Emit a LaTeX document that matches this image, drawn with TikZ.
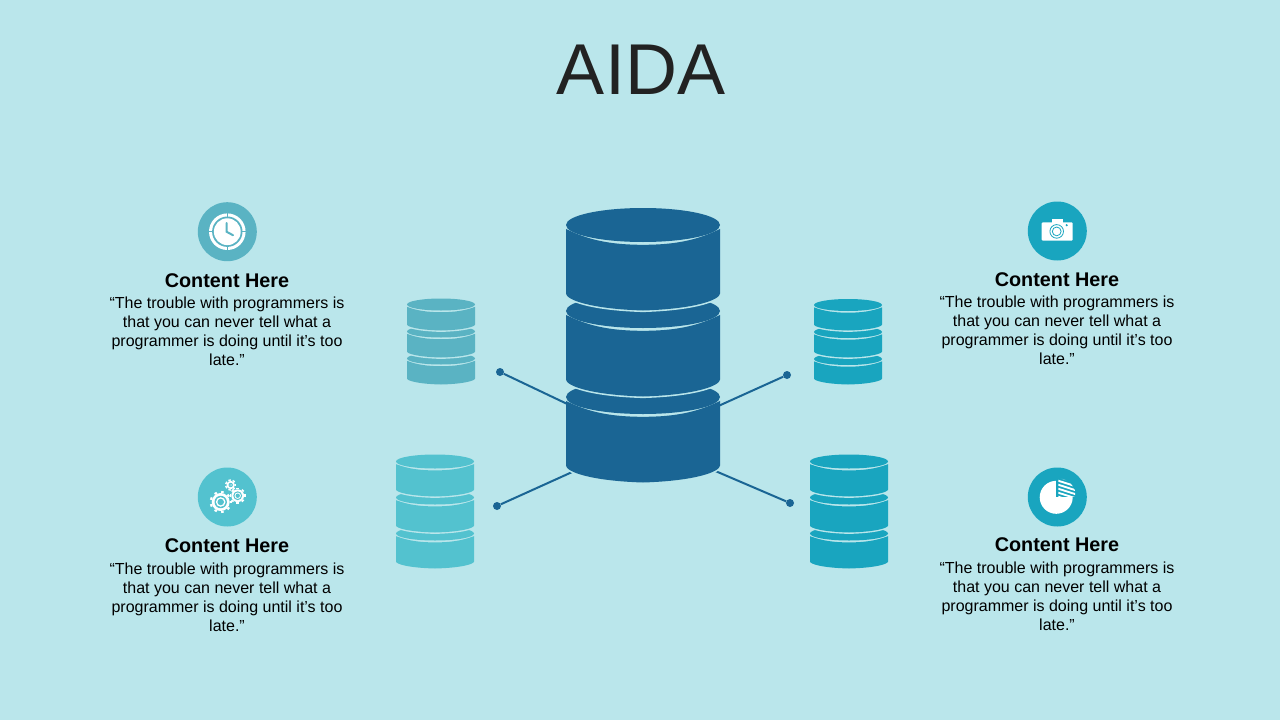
\documentclass[tikz,border=0pt]{standalone}
\usepackage{fontspec}
\setmainfont{Liberation Sans}
\definecolor{bgc}{HTML}{BAE6EB}
\definecolor{darkb}{HTML}{1A6594}
\definecolor{cA}{HTML}{5AB3C3}
\definecolor{cB}{HTML}{53C2CF}
\definecolor{cC}{HTML}{19A5BF}
\definecolor{titlec}{HTML}{222222}
% one stack segment: cx, yc, half width, ry, side height, colour, gap, halo width
\newcommand{\dbseg}[8]{%
  \fill[#6] (#1,#2) ellipse [x radius=#3, y radius=#4];
  \draw[bgc,line width=#8pt]
    ({#1-#3},{#2+#5}) .. controls ({#1-#3},{#2+#5+0.35*#4}) and ({#1-0.7*#3},{#2+#5+0.9*#4}) .. ({#1},{#2+#5+#4})
    .. controls ({#1+0.7*#3},{#2+#5+0.9*#4}) and ({#1+#3},{#2+#5+0.35*#4}) .. ({#1+#3},{#2+#5});
  \fill[#6]
    ({#1-#3},{#2+1.4*#7}) .. controls ({#1-0.7*#3},{#2+#4*0.75+#7}) and ({#1-0.4*#3},{#2+#4+#7}) .. ({#1},{#2+#4+#7})
    .. controls ({#1+0.4*#3},{#2+#4+#7}) and ({#1+0.7*#3},{#2+#4*0.75+#7}) .. ({#1+#3},{#2+1.4*#7})
    -- ({#1+#3},{#2+#5})
    .. controls ({#1+#3},{#2+#5+0.35*#4}) and ({#1+0.7*#3},{#2+#5+0.9*#4}) .. ({#1},{#2+#5+#4})
    .. controls ({#1-0.7*#3},{#2+#5+0.9*#4}) and ({#1-#3},{#2+#5+0.35*#4}) .. ({#1-#3},{#2+#5})
    -- cycle;
}
% whole stack: cx, first yc, w, ry, h, pitch, colour, gap, halo
\newcommand{\dbstack}[9]{%
  \dbseg{#1}{#2+2*#6}{#3}{#4}{#5}{#7}{#8}{#9}
  \dbseg{#1}{#2+#6}{#3}{#4}{#5}{#7}{#8}{#9}
  \dbseg{#1}{#2}{#3}{#4}{#5}{#7}{#8}{#9}
}
% gear: x, y, body radius, tooth tip radius, teeth, colour, ring outer, ring inner
\newcommand{\gearicon}[8]{%
  \foreach \ga in {1,...,#5}{
    \draw[white,line width=2.6pt] ({#1+#3*cos(\ga*360/#5)},{#2+#3*sin(\ga*360/#5)}) -- ({#1+#4*cos(\ga*360/#5)},{#2+#4*sin(\ga*360/#5)});
  }
  \fill[white] (#1,#2) circle [radius=#3];
  \fill[#6] (#1,#2) circle [radius=#7];
  \fill[white] (#1,#2) circle [radius=#8];
  \fill[#6] (#1,#2) circle [radius={#8*0.68}];
}
\tikzset{
  dotn/.style={circle,fill=darkb,inner sep=0pt,minimum size=8pt},
  link/.style={darkb,line width=2pt},
  badge/.style={circle,inner sep=0pt,minimum size=59pt},
  headn/.style={font=\fontsize{19.8}{22}\selectfont\bfseries,inner sep=0pt,anchor=center},
  bodyn/.style={font=\fontsize{16}{19}\selectfont,align=center,inner sep=0pt,anchor=north,text=black},
}
\newcommand{\quotetext}{“The trouble with programmers is\\that you can never tell what a\\programmer is doing until it’s too\\late.”}
\begin{document}
\begin{tikzpicture}[x=1pt,y=-1pt]
\useasboundingbox (0,0) rectangle (1280,720);
\fill[bgc] (0,0) rectangle (1280,720);

\node[font=\fontsize{72}{74}\selectfont,text=titlec,inner sep=0pt] (title) at (641,70) {AIDA};

% connectors
\coordinate (hub) at (643,440);
\node[dotn] (dA) at (500,372) {};
\node[dotn] (dB) at (787,375) {};
\node[dotn] (dC) at (497,506) {};
\node[dotn] (dD) at (790,503) {};
\draw[link] (hub) -- (dA);
\draw[link] (hub) -- (dB);
\draw[link] (hub) -- (dC);
\draw[link] (hub) -- (dD);

% stacks
\dbstack{643}{225}{77}{17}{68.5}{86}{darkb}{2.8}{3.2}
\dbstack{441}{304.5}{34}{6}{20}{27}{cA}{1.7}{2.8}
\dbstack{848}{305}{34}{6}{19.5}{27}{cC}{1.7}{2.8}
\dbstack{435}{461.5}{39}{7}{28}{36}{cB}{1.9}{2.8}
\dbstack{849}{461.5}{39}{7}{28}{36}{cC}{1.9}{2.8}

% badges
\node[badge,fill=cA] (iA) at (227.3,231.7) {};
\node[badge,fill=cB] (iC) at (227.3,497) {};
\node[badge,fill=cC] (iB) at (1057.3,231) {};
\node[badge,fill=cC] (iD) at (1057.3,497) {};

% clock
\fill[white] (iA.center) circle [radius=18.3];
\fill[cA] (iA.center) circle [radius=15.2];
\fill[white] (iA.center) circle [radius=13.4];
\foreach \ca in {0,90,180,270}{
  \draw[cA,line width=1.4pt] ({227.3+14*cos(\ca)},{231.7+14*sin(\ca)}) -- ({227.3+18.6*cos(\ca)},{231.7+18.6*sin(\ca)});
}
\draw[cA,line width=2pt,line cap=round] (226.5,223) -- (226.5,231.7) -- (233,235.2);

% gears
\gearicon{220.7}{502}{9}{11}{9}{cB}{6.2}{4.8}
\gearicon{237.7}{495.7}{6.4}{8}{8}{cB}{4.4}{3.2}
\gearicon{230.7}{485}{4.2}{5.6}{7}{cB}{2.2}{1.2}

% camera
\fill[white,rounded corners=1pt] (1041.7,222.3) rectangle (1072.7,240.7);
\fill[white] (1052,219) rectangle (1063,223);
\draw[cC,line width=0.8pt] (1056.7,231.4) circle [radius=6.8];
\draw[cC,line width=0.8pt] (1056.7,231.4) circle [radius=4.4];
\fill[cC] (1066.7,225.2) circle [radius=1.2];

% pie
\fill[white] (1056.2,497.3) circle [radius=16.5];
\fill[cC] (1056.2,478) rectangle (1075,497.3);
\begin{scope}
  \clip (1058.3,478.3) rectangle (1075,496);
  \clip (1058.3,496) circle [radius=17.5];
  \foreach \ha in {0,4,...,36}{
    \draw[white,line width=1.9pt] (1056,{472+\ha}) -- (1078,{479+\ha});
  }
\end{scope}

% texts
\node[headn] (hA) at (227,280.5) {Content Here};
\node[bodyn] (tA) at (227,296.5) {\quotetext};
\node[headn] (hC) at (227,545.5) {Content Here};
\node[bodyn] (tC) at (227,562.5) {\quotetext};
\node[headn] (hB) at (1057,279.5) {Content Here};
\node[bodyn] (tB) at (1057,295.5) {\quotetext};
\node[headn] (hD) at (1057,544.5) {Content Here};
\node[bodyn] (tD) at (1057,561.5) {\quotetext};
\end{tikzpicture}
\end{document}
